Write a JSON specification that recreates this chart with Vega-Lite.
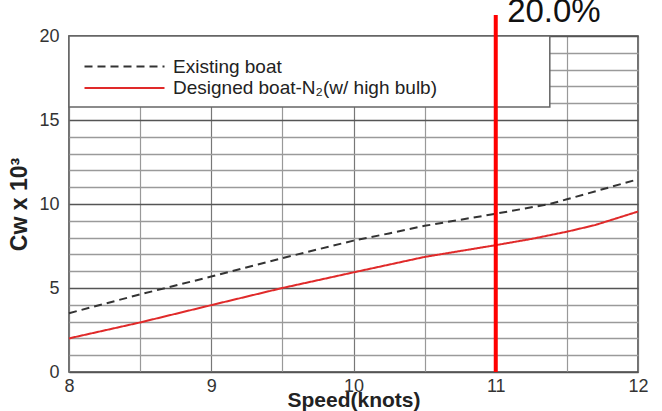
{
  "$schema": "https://vega.github.io/schema/vega-lite/v6.json",
  "width": 569,
  "height": 336,
  "autosize": {"type": "none"},
  "padding": {"left": 69, "top": 36, "right": 24, "bottom": 39},
  "background": "white",
  "config": {
    "font": "Liberation Sans",
    "view": {"stroke": "#444", "strokeWidth": 1.5},
    "axis": {"domain": false, "ticks": false, "labelFont": "Liberation Sans", "titleFont": "Liberation Sans", "labelOverlap": false, "labelFlush": false}
  },
  "datasets": {
    "curves": [
      {"speed": 8, "cw": 3.5, "series": "Existing boat"},
      {"speed": 8.5, "cw": 4.62, "series": "Existing boat"},
      {"speed": 9, "cw": 5.68, "series": "Existing boat"},
      {"speed": 9.5, "cw": 6.78, "series": "Existing boat"},
      {"speed": 10, "cw": 7.82, "series": "Existing boat"},
      {"speed": 10.25, "cw": 8.25, "series": "Existing boat"},
      {"speed": 10.5, "cw": 8.7, "series": "Existing boat"},
      {"speed": 11, "cw": 9.42, "series": "Existing boat"},
      {"speed": 11.38, "cw": 10.0, "series": "Existing boat"},
      {"speed": 11.5, "cw": 10.28, "series": "Existing boat"},
      {"speed": 12, "cw": 11.47, "series": "Existing boat"},
      {"speed": 8, "cw": 2.0, "series": "Designed boat-N₂(w/ high bulb)"},
      {"speed": 8.5, "cw": 2.95, "series": "Designed boat-N₂(w/ high bulb)"},
      {"speed": 9, "cw": 3.98, "series": "Designed boat-N₂(w/ high bulb)"},
      {"speed": 9.5, "cw": 5.0, "series": "Designed boat-N₂(w/ high bulb)"},
      {"speed": 10, "cw": 5.93, "series": "Designed boat-N₂(w/ high bulb)"},
      {"speed": 10.5, "cw": 6.85, "series": "Designed boat-N₂(w/ high bulb)"},
      {"speed": 11, "cw": 7.55, "series": "Designed boat-N₂(w/ high bulb)"},
      {"speed": 11.25, "cw": 7.92, "series": "Designed boat-N₂(w/ high bulb)"},
      {"speed": 11.5, "cw": 8.35, "series": "Designed boat-N₂(w/ high bulb)"},
      {"speed": 11.7, "cw": 8.75, "series": "Designed boat-N₂(w/ high bulb)"},
      {"speed": 12, "cw": 9.55, "series": "Designed boat-N₂(w/ high bulb)"}
    ],
    "legendbox": [{"speed": 8, "speed2": 11.38, "cw": 15.77, "cw2": 20}],
    "marker": [{"speed": 11, "cw": 0, "cw2": 21.25}],
    "note": [{"speed": 11.08, "cw": 20.83, "label": "20.0%"}]
  },
  "encoding": {
    "x": {"field": "speed", "type": "quantitative",
      "scale": {"domain": [8, 12], "nice": false, "zero": false},
      "axis": {
        "values": [8, 8.5, 9, 9.5, 10, 10.5, 11, 11.5, 12],
        "labelExpr": "datum.value % 1 === 0 ? '' + datum.value : ''",
        "title": "Speed(knots)",
        "titleFontSize": 21, "titleFontWeight": "bold", "titleColor": "#222", "titlePadding": -6,
        "labelFontSize": 18, "labelColor": "#333", "labelPadding": 5,
        "gridColor": {"condition": {"test": "datum.value % 1 === 0", "value": "#777"}, "value": "#999"},
        "gridWidth": 1.2
      }},
    "y": {"field": "cw", "type": "quantitative",
      "scale": {"domain": [0, 20], "nice": false},
      "axis": {
        "values": [0,1,2,3,4,5,6,7,8,9,10,11,12,13,14,15,16,17,18,19,20],
        "labelExpr": "datum.value % 5 === 0 ? '' + datum.value : ''",
        "title": "Cw x 10³",
        "titleFontSize": 23, "titleFontWeight": "bold", "titleColor": "#222", "titlePadding": 7,
        "labelFontSize": 18, "labelColor": "#333", "labelPadding": 10,
        "gridColor": {"condition": {"test": "datum.value % 5 === 0", "value": "#555"}, "value": "#9a9a9a"},
        "gridWidth": 1.5
      }}
  },
  "layer": [
    {
      "data": {"name": "legendbox"},
      "mark": {"type": "rect", "fill": "white", "stroke": "#666", "strokeWidth": 1.5},
      "encoding": {
        "x2": {"field": "speed2"},
        "y2": {"field": "cw2"}
      }
    },
    {
      "data": {"name": "curves"},
      "mark": {"type": "line"},
      "encoding": {
        "color": {"field": "series", "type": "nominal",
          "scale": {"domain": ["Existing boat", "Designed boat-N₂(w/ high bulb)"], "range": ["#333333", "#e02a2a"]},
          "legend": {"orient": "none", "legendX": 46, "legendY": 21, "title": null,
            "symbolType": "M-8,0H8", "symbolSize": 100, "symbolStrokeWidth": 2,
            "labelFontSize": 19, "labelColor": "#222", "labelOffset": 39, "labelLimit": 500, "rowPadding": 1.5, "padding": 0,
            "labelFont": "Liberation Sans"}},
        "strokeDash": {"field": "series", "type": "nominal",
          "scale": {"domain": ["Existing boat", "Designed boat-N₂(w/ high bulb)"], "range": [[8, 5], [1, 0]]},
          "legend": {"orient": "none", "legendX": 46, "legendY": 21, "title": null,
            "symbolType": "M-8,0H8", "symbolSize": 100, "symbolStrokeWidth": 2,
            "labelFontSize": 19, "labelColor": "#222", "labelOffset": 39, "labelLimit": 500, "rowPadding": 1.5, "padding": 0,
            "labelFont": "Liberation Sans"}},
        "strokeWidth": {"value": 2}
      }
    },
    {
      "data": {"name": "marker"},
      "mark": {"type": "rule", "color": "#ff0000", "strokeWidth": 4},
      "encoding": {
        "y2": {"field": "cw2"}
      }
    },
    {
      "data": {"name": "note"},
      "mark": {"type": "text", "align": "left", "baseline": "alphabetic", "fontSize": 33, "color": "#111", "font": "Liberation Sans"},
      "encoding": {
        "text": {"field": "label"}
      }
    }
  ]
}
